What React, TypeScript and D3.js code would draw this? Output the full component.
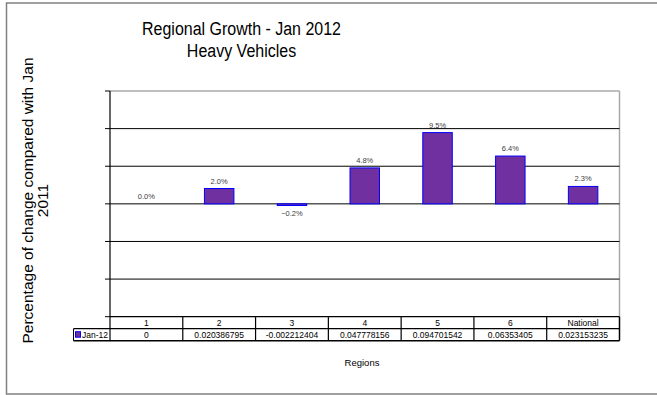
import React from "react";
import * as d3 from "d3";

const categories: string[] = ["1", "2", "3", "4", "5", "6", "National"];
const values: number[] = [0, 0.020386795, -0.002212404, 0.047778156, 0.094701542, 0.06353405, 0.023153235];
const valueText: string[] = ["0", "0.020386795", "-0.002212404", "0.047778156", "0.094701542", "0.06353405", "0.023153235"];
const yTicks: number[] = [-0.15, -0.1, -0.05, 0, 0.05, 0.1, 0.15];
const seriesName = "Jan-12";
const titleLines: string[] = ["Regional Growth - Jan 2012", "Heavy Vehicles"];
const yTitleLines: string[] = ["Percentage of change compared with Jan", "2011"];
const xTitle = "Regions";

const W = 657;
const H = 395;
const plotL = 110;
const plotR = 619.5;
const plotT = 91;
const plotB = 316.7;
const rowH = 12;
const font = "Arial, 'Liberation Sans', sans-serif";

export default function App() {
  const x = d3.scaleBand<string>().domain(categories).range([plotL, plotR]).padding(0);
  const y = d3.scaleLinear().domain([-0.15, 0.15]).range([plotB, plotT]);
  const bw = x.bandwidth();
  const barW = bw * 0.405;
  const fmt = d3.format(".1%");
  const row1 = plotB;
  const row2 = plotB + rowH;
  const row3 = plotB + rowH * 2;
  const legendL = 73.5;

  return (
    <svg
      width={W}
      height={H}
      style={{ position: "absolute", left: 0, top: 0, background: "#fff" }}
      fontFamily={font}
    >
      {/* outer frame */}
      <rect x={6.5} y={3} width={660} height={391} fill="#fff" stroke="#808080" strokeWidth={1.5} />

      {/* title */}
      {titleLines.map((t, i) => (
        <text
          key={t}
          x={0}
          y={0}
          fontSize={16}
          textAnchor="middle"
          fill="#000"
          transform={`translate(241.5, ${35 + i * 21.7}) scale(1,1.1)`}
        >
          {t}
        </text>
      ))}

      {/* y title */}
      {yTitleLines.map((t, i) => (
        <text
          key={t}
          fontSize={15.5}
          textAnchor="middle"
          dominantBaseline="central"
          fill="#000"
          transform={`translate(${27.5 + i * 14.5}, 200.5) rotate(-90)`}
        >
          {t}
        </text>
      ))}

      {/* plot top/right borders */}
      <line x1={plotL} x2={plotR} y1={plotT} y2={plotT} stroke="#808080" strokeWidth={1.2} />
      <line x1={plotR} x2={plotR} y1={plotT} y2={plotB} stroke="#a8a8a8" strokeWidth={1.5} />

      {/* gridlines */}
      {yTicks.slice(1, -1).map((t) => (
        <line key={t} x1={plotL} x2={plotR} y1={y(t)} y2={y(t)} stroke="#000" strokeWidth={1} />
      ))}

      {/* y axis ticks */}
      {yTicks.map((t) => (
        <line key={"tk" + t} x1={plotL - 5} x2={plotL} y1={y(t)} y2={y(t)} stroke="#000" strokeWidth={1} />
      ))}

      {/* bars */}
      {values.map((v, i) => {
        const cx = (x(categories[i]) as number) + bw / 2;
        const y0 = y(0);
        const y1 = y(v);
        const top = Math.min(y0, y1);
        const h = Math.abs(y1 - y0);
        return (
          <g key={"b" + i}>
            {h > 0 && (
              <rect x={cx - barW / 2} y={top} width={barW} height={h} fill="#7030a0" stroke="#0000ff" strokeWidth={1} />
            )}
            <text
              x={cx}
              y={v >= 0 ? y1 - 5 : y1 + 10.5}
              fontSize={7.5}
              textAnchor="middle"
              fill="#404040"
            >
              {fmt(v)}
            </text>
          </g>
        );
      })}

      {/* y axis */}
      <line x1={plotL} x2={plotL} y1={plotT} y2={row3} stroke="#000" strokeWidth={1.2} />

      {/* data table */}
      <line x1={plotL} x2={plotR} y1={row1} y2={row1} stroke="#000" strokeWidth={1.2} />
      <line x1={legendL} x2={plotR} y1={row2} y2={row2} stroke="#000" strokeWidth={1.2} />
      <line x1={legendL} x2={plotR} y1={row3} y2={row3} stroke="#000" strokeWidth={1.5} />
      <line x1={legendL} x2={legendL} y1={row2} y2={row3} stroke="#000" strokeWidth={1} />
      {categories.map((c, i) => {
        const x0 = x(c) as number;
        return (
          <g key={"c" + c}>
            <line x1={x0 + bw} x2={x0 + bw} y1={row1} y2={row3} stroke="#000" strokeWidth={i === categories.length - 1 ? 1.5 : 1.2} />
            <text x={x0 + bw / 2} y={row1 + 9} fontSize={8.5} textAnchor="middle" fill="#000">
              {c}
            </text>
            <text x={x0 + bw / 2} y={row2 + 9} fontSize={8.5} textAnchor="middle" fill="#000">
              {valueText[i]}
            </text>
          </g>
        );
      })}
      {/* legend key */}
      <rect x={75.5} y={row2 + 3} width={5} height={5.5} fill="#7030a0" stroke="#0000ff" strokeWidth={1} />
      <text x={82} y={row2 + 9} fontSize={8.5} fill="#000">
        {seriesName}
      </text>

      {/* x title */}
      <text x={362} y={366} fontSize={9.5} textAnchor="middle" fill="#000">
        {xTitle}
      </text>
    </svg>
  );
}
